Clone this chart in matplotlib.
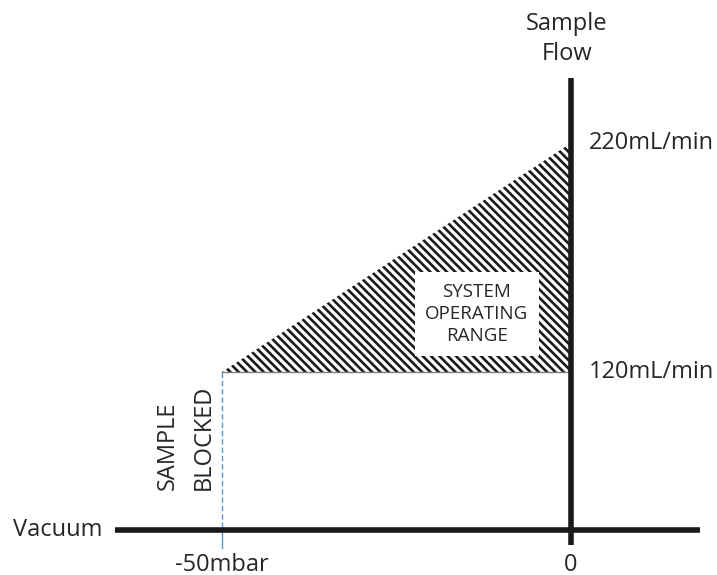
import matplotlib
matplotlib.use("Agg")
import matplotlib.pyplot as plt

# Operating envelope: vacuum (mbar) vs sample flow (mL/min)
pressure_marks = [-50, 0]
pressure_labels = ["-50mbar", "0"]
flow_levels = [120, 220]
flow_labels = ["120mL/min", "220mL/min"]

# Region corners: flow rises from 120 at -50 mbar to 220 at 0 mbar
region_x = [-50, 0, 0]
region_y = [120, 120, 220]

baseline_flow = 51.2          # where the vacuum axis crosses
flow_axis_span = [44.5, 248.3]
vacuum_axis_span = [-65.3, 18.5]

plt.rcParams["font.family"] = ["Open Sans", "DejaVu Sans"]
plt.rcParams["hatch.linewidth"] = 1.9
plt.rcParams["hatch.color"] = "#1a1a1a"

fig = plt.figure(figsize=(7.17, 5.75), dpi=100)
ax = fig.add_axes([0, 0, 1, 1])
ax.set_xlim(-81.8, 20.9)
ax.set_ylim(31.35, 282.4)
ax.axis("off")

txt = "#262626"
fs = 17

# hatched operating region
ax.fill(region_x, region_y, facecolor="white", edgecolor="#1a1a1a",
        hatch="\\\\\\\\", linewidth=0, zorder=1)
ax.plot([region_x[0], region_x[1]], [region_y[0], region_y[1]],
        color="#7f7f7f", lw=1.0, zorder=2)

# axes
ax.plot(vacuum_axis_span, [baseline_flow, baseline_flow], color="#1a1a1a",
        lw=4, solid_capstyle="butt", zorder=3)
ax.plot([0, 0], flow_axis_span, color="#1a1a1a", lw=4,
        solid_capstyle="butt", zorder=3)

# blocked-sample marker
ax.plot([pressure_marks[0]] * 2, [flow_levels[0], baseline_flow],
        color="#5b9bd5", lw=1.0, ls=(0, (4, 2)), zorder=2)
ax.plot([pressure_marks[0]] * 2, [baseline_flow, 43.1],
        color="#5b9bd5", lw=1.0, zorder=2)

# labels
ax.text(-0.6, 265.4, "Sample\nFlow", ha="center", va="center",
        fontsize=fs, color=txt, linespacing=1.3)
for lvl, lab in zip(flow_levels, flow_labels):
    ax.text(2.5, lvl, lab, ha="left", va="center", fontsize=fs, color=txt)
for p, lab in zip(pressure_marks, pressure_labels):
    ax.text(p, 33.3, lab, ha="center", va="baseline", fontsize=fs, color=txt)
ax.text(-80.0, baseline_flow, "Vacuum", ha="left", va="center",
        fontsize=fs, color=txt)

ax.text(-57.7, 68.5, "SAMPLE", rotation=90, ha="center", va="bottom",
        fontsize=fs, color=txt)
ax.text(-52.65, 68.5, "BLOCKED", rotation=90, ha="center", va="bottom",
        fontsize=fs, color=txt)

ax.text(-13.5, 145.3, "SYSTEM\nOPERATING\nRANGE", ha="center", va="center",
        fontsize=13.5, color=txt, linespacing=1.3, zorder=4,
        bbox=dict(boxstyle="square,pad=0.55", facecolor="white",
                  edgecolor="none"))

fig.savefig("out.png", dpi=100)
